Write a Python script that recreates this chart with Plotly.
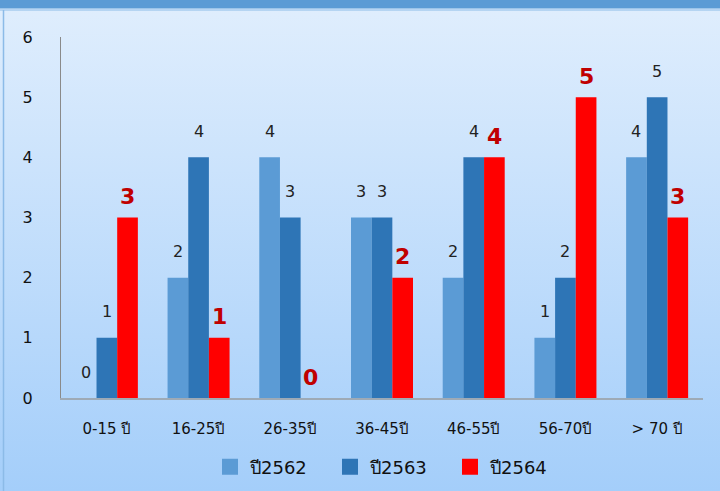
import plotly.graph_objects as go

# age groups and counts per year
categories = ["0-15 ปี", "16-25ปี", "26-35ปี", "36-45ปี", "46-55ปี", "56-70ปี", "> 70 ปี"]
y2562 = [0, 2, 4, 3, 2, 1, 4]
y2563 = [1, 4, 3, 3, 4, 2, 5]
y2564 = [3, 1, 0, 2, 4, 5, 3]
series_names = ["ปี2562", "ปี2563", "ปี2564"]
y_ticks = [0, 1, 2, 3, 4, 5, 6]

colors = ["#5b9bd5", "#2e75b6", "#ff0000"]
FONT = "DejaVu Sans, Tahoma, sans-serif"

W, H = 720, 491
L, R, T, B = 61, 17, 37, 93
pw, ph = W - L - R, H - T - B
bar_px = pw / len(categories) * (1 - 0.324) / 3

fig = go.Figure()
for name, vals, col in zip(series_names, [y2562, y2563, y2564], colors):
    fig.add_trace(go.Bar(x=categories, y=vals, name=name, marker=dict(color=col, line=dict(width=0)),
                         showlegend=False))
    # legend stand-in with a bigger square
    fig.add_trace(go.Scatter(x=[None], y=[None], mode="markers", name=name,
                             marker=dict(symbol="square", size=16, color=col)))

# value labels above the bars
annotations = []
for i, vals in enumerate([y2562, y2563, y2564]):
    red = i == 2
    for cat, v in zip(categories, vals):
        annotations.append(dict(
            x=cat, y=v, xref="x", yref="y", text=str(v), showarrow=False,
            xshift=(i - 1) * bar_px, yshift=21 if red else 26,
            font=dict(family=FONT, size=22 if red else 16, color="#c00000" if red else "#222222",
                      weight="bold" if red else "normal"),
        ))

# gradient background as an inline svg
svg = ("data:image/svg+xml;utf8,<svg xmlns='http://www.w3.org/2000/svg' width='720' height='491' "
       "preserveAspectRatio='none'><defs><linearGradient id='g' x1='0' y1='0' x2='0' y2='1'>"
       "<stop offset='0' stop-color='%23e0eefd'/><stop offset='1' stop-color='%23a4cefa'/>"
       "</linearGradient></defs><rect width='720' height='491' fill='url(%23g)'/></svg>")

fx = lambda px: (px - L) / pw
fy = lambda py: (H - B - py) / ph

fig.update_layout(
    width=W, height=H, barmode="group", bargap=0.324, bargroupgap=0,
    margin=dict(l=L, r=R, t=T, b=B, autoexpand=False),
    paper_bgcolor="#a6cffa", plot_bgcolor="rgba(0,0,0,0)",
    font=dict(family=FONT, color="#111111"),
    images=[dict(source=svg, xref="paper", yref="paper", x=fx(0), y=fy(0),
                 sizex=W / pw, sizey=H / ph, sizing="stretch", layer="below")],
    shapes=[
        dict(type="rect", xref="paper", yref="paper", x0=fx(0), x1=fx(W), y0=fy(0), y1=fy(8.5),
             fillcolor="#5b9bd5", line=dict(width=0), layer="above"),
        dict(type="line", xref="paper", yref="paper", x0=fx(0), x1=fx(W), y0=fy(10), y1=fy(10),
             line=dict(color="#8cbbe8", width=1)),
        dict(type="line", xref="paper", yref="paper", x0=fx(3.5), x1=fx(3.5), y0=fy(10), y1=fy(H),
             line=dict(color="#8cbbe8", width=1.5)),
    ],
    annotations=annotations,
    xaxis=dict(showline=True, linecolor="#9eaab6", linewidth=2, showgrid=False, ticks="",
               tickfont=dict(size=15, color="#111111"), ticklabelstandoff=16),
    yaxis=dict(range=[0, 6], tickvals=y_ticks, showline=True, linecolor="#8a8a8a", linewidth=1,
               showgrid=False, zeroline=False, ticks="",
               tickfont=dict(size=16, color="#111111"), ticklabelstandoff=24),
    legend=dict(orientation="h", x=fx(390), xanchor="center", y=fy(467), yanchor="middle",
                font=dict(size=18, color="#111111"), bgcolor="rgba(0,0,0,0)",
                entrywidth=75, itemsizing="trace"),
)

fig.write_html("out.html", config={"displayModeBar": False},
               post_script="document.body.style.margin='0';")
